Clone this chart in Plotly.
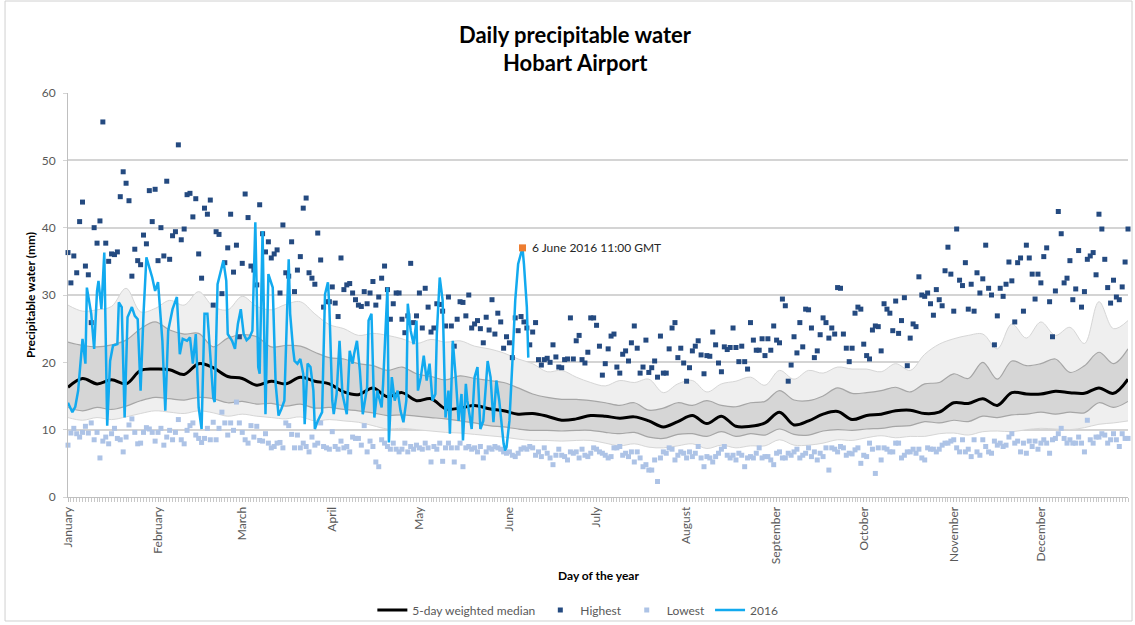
import plotly.graph_objects as go

# ---------------- data ----------------
month_names = ["January", "February", "March", "April", "May", "June", "July",
               "August", "September", "October", "November", "December"]
month_start_days = [1, 32, 61, 92, 122, 153, 183, 214, 245, 275, 306, 336]

days = list(range(1, 367))

highest = [
    36.3, 31.8, 35.8, 33.3, 40.9, 43.8, 34.3, 33.0, 25.9, 40.0,
    37.7, 41.0, 55.7, 37.7, 35.0, 36.1, 36.0, 36.4, 44.6, 48.3,
    46.6, 44.0, 32.8, 36.8, 35.1, 34.5, 38.9, 37.6, 45.5, 40.9,
    45.7, 35.1, 40.0, 35.8, 46.9, 35.3, 38.8, 39.4, 52.3, 38.2,
    39.8, 44.9, 45.1, 41.6, 44.3, 36.1, 32.5, 42.9, 42.0, 44.1,
    28.5, 39.4, 39.0, 30.2, 34.8, 37.0, 42.0, 33.4, 37.4, 23.8,
    34.7, 45.0, 41.5, 34.3, 33.7, 31.5, 43.4, 39.1, 36.4, 37.9,
    35.5, 36.1, 36.7, 30.3, 40.4, 33.3, 32.8, 37.9, 30.5, 33.7,
    35.7, 42.9, 44.4, 33.3, 32.5, 31.6, 39.2, 35.2, 28.2,
    29.0, 29.0, 31.2, 28.8, 26.8, 35.5, 30.8, 31.5, 31.7, 30.3,
    29.3, 28.5, 28.3, 30.5, 28.7, 30.3, 32.0, 28.5, 29.7, 32.5,
    34.3, 30.8, 26.4, 28.7, 30.3, 30.3, 26.4, 24.4, 26.9, 34.7,
    25.9, 26.9, 30.3, 25.1, 31.0, 28.2, 24.5, 25.1, 28.7, 28.6,
    27.6, 25.4, 29.7, 25.4, 22.4, 26.4, 29.0, 28.9, 26.9, 30.0,
    25.1, 25.7, 26.2, 25.0, 22.9, 26.7, 24.8, 29.3, 24.2, 27.3,
    26.0, 22.1, 23.8, 22.9, 20.7, 26.6, 24.7, 26.8, 26.0, 25.1,
    22.6, 24.5, 25.9, 20.4, 19.6, 20.4, 20.6, 20.0, 22.6, 20.8,
    19.3, 19.2, 20.4, 20.5, 26.6, 20.5, 23.2, 24.0, 20.4, 19.9,
    21.5, 26.6,
    26.6, 25.5, 22.4, 18.1, 19.8, 22.0, 23.9, 24.2, 19.3, 18.4,
    21.2, 21.7, 20.2, 22.9, 25.4, 22.1, 18.4, 19.3, 23.3, 18.5,
    19.2, 20.2, 17.8, 23.9, 18.4, 18.4, 22.0, 25.1, 25.9, 20.7,
    22.1, 19.9, 17.2, 19.2, 21.7, 22.4, 23.2, 21.1, 18.3, 21.0,
    20.9, 24.5, 22.6, 19.9, 18.6, 22.3, 21.9, 22.2, 25.1, 22.2,
    20.1, 22.4, 20.1, 19.0, 25.9, 23.3, 21.8, 21.8, 23.5, 21.0,
    23.5, 21.8, 25.4, 23.3, 22.9, 29.4, 28.4, 17.2, 19.6, 23.8,
    21.4, 25.9, 22.3, 27.9, 27.8, 25.1, 20.7, 21.7, 24.1, 26.6,
    25.9, 23.6, 25.1, 24.2, 31.1, 31.0, 24.2, 22.1, 20.1, 22.1,
    27.3, 28.2,
    27.9, 22.7, 21.0, 20.5, 24.8, 25.4, 25.3, 21.7, 28.7, 27.9,
    27.3, 24.7, 29.1, 24.3, 26.2, 29.6, 19.5, 23.6, 25.7, 25.3,
    32.7, 30.0, 29.8, 30.3, 28.7, 27.0, 30.8, 29.3, 28.4, 33.6,
    37.1, 33.1, 27.6, 39.8, 32.2, 31.4, 34.8, 27.9, 31.6, 27.6,
    33.3, 30.3, 32.4, 37.4, 31.0, 30.0, 22.6, 26.9, 31.0, 29.8,
    31.6, 34.9, 32.1, 26.0, 34.8, 35.5, 27.6, 37.4, 35.5, 33.1,
    29.4, 33.1, 31.8, 35.7, 37.0, 29.0, 23.8, 30.6, 42.4, 39.1,
    31.8, 32.5, 35.1, 29.3, 30.9, 36.6, 28.2, 30.5, 35.3, 35.8,
    36.3, 33.0, 42.0, 39.8, 35.3, 31.1, 28.8, 32.2, 29.7, 29.3,
    31.2, 34.9, 39.8,
]

lowest = [
    7.7, 9.5, 10.2, 9.4, 8.9, 9.6, 10.5, 9.5, 11.0, 8.5,
    9.6, 5.8, 8.3, 8.9, 7.9, 9.4, 10.2, 8.7, 8.5, 6.7,
    8.9, 10.7, 11.6, 9.6, 7.9, 8.0, 9.6, 10.3, 10.1, 9.6,
    8.3, 9.6, 10.2, 7.7, 8.9, 9.9, 8.5, 9.6, 11.5, 8.5,
    7.9, 9.9, 10.6, 11.0, 9.2, 8.7, 8.1, 8.7, 10.2, 8.5,
    11.1, 8.5, 10.2, 12.6, 11.0, 9.2, 11.0, 9.9, 14.1, 11.0,
    9.6, 8.5, 8.0, 10.6, 8.9, 10.5, 8.4, 8.3, 9.4, 8.0,
    7.3, 7.5, 8.0, 8.1, 7.3, 11.0, 10.6, 9.3, 7.3, 9.2,
    7.3, 8.0, 7.5, 6.7, 8.9, 7.7, 8.0, 11.0, 7.5,
    7.3, 7.1, 9.7, 7.5, 7.1, 8.3, 7.3, 7.5, 6.7, 8.9,
    8.7, 8.7, 7.7, 10.6, 6.7, 8.3, 7.5, 5.2, 4.5, 8.5,
    8.0, 7.5, 7.1, 8.0, 7.1, 6.7, 7.1, 8.0, 6.7, 7.5,
    7.1, 7.7, 7.3, 7.1, 8.0, 7.3, 5.2, 7.5, 7.1, 8.0,
    5.3, 7.3, 8.0, 7.3, 5.2, 7.3, 8.0, 4.5, 7.3, 7.5,
    7.1, 7.3, 6.7, 7.5, 5.8, 6.7, 7.3, 7.1, 7.5, 7.3,
    7.1, 6.7, 6.5, 6.7, 6.2, 6.0, 6.5, 7.1, 7.3, 7.1,
    7.5, 7.3, 6.2, 6.7, 6.0, 7.3, 6.5, 5.8, 4.8, 6.2,
    7.1, 6.2, 6.0, 5.5, 6.7, 6.5, 6.7, 5.8, 7.1, 6.2,
    6.0,
    6.5, 7.3, 7.1, 6.7, 6.5, 6.2, 5.8, 6.0, 7.3, 7.3,
    7.5, 6.2, 6.5, 6.0, 6.7, 5.2, 6.7, 5.8, 4.5, 4.8,
    4.0, 4.0, 5.5, 2.3, 5.8, 6.7, 6.5, 7.3, 7.1, 5.5,
    6.2, 6.7, 6.5, 5.8, 6.7, 6.0, 6.5, 7.5, 5.8, 4.5,
    6.0, 5.8, 5.2, 6.0, 6.5, 7.1, 7.5, 6.2, 5.8, 6.2,
    5.5, 6.5, 6.2, 4.5, 5.8, 6.0, 5.8, 6.5, 7.3, 5.8,
    6.0, 6.0, 5.5, 4.8, 6.5, 6.7, 5.8, 5.8, 6.5, 6.2,
    6.7, 7.1, 5.8, 6.2, 6.5, 7.3, 6.0, 6.7, 5.5, 6.5,
    6.0, 7.3, 4.0, 7.3, 7.1, 6.7, 7.5, 7.3, 6.2, 6.5,
    6.4, 7.0,
    7.3, 5.0, 6.2, 6.0, 8.0, 7.1, 3.5, 7.3, 5.5, 7.3,
    7.1, 6.7, 6.7, 8.0, 8.0, 5.8, 6.2, 6.7, 6.7, 7.1,
    6.5, 7.1, 5.8, 5.5, 7.3, 7.1, 7.1, 6.7, 7.1, 7.7,
    8.0, 8.0, 8.3, 8.5, 7.3, 6.7, 8.5, 6.7, 7.1, 6.0,
    8.5, 6.7, 6.2, 8.5, 7.5, 6.7, 6.5, 8.3, 7.7, 8.0,
    7.5, 7.7, 8.9, 9.4, 8.0, 8.3, 6.7, 8.0, 6.5, 8.3,
    7.5, 8.3, 7.1, 8.0, 8.5, 8.0, 6.5, 8.5, 8.7, 9.4,
    10.2, 8.7, 8.0, 8.5, 8.0, 8.0, 8.9, 8.0, 6.7, 11.4,
    8.5, 8.0, 8.9, 8.9, 9.4, 9.2, 8.0, 8.5, 9.4, 8.5,
    7.5, 9.4, 8.7, 8.7,
]

# band statistics sampled every 5 days (day 1, 6, ..., 366)
band_days = list(range(1, 367, 5))
median5 = [
    16.3, 17.6, 16.8, 17.4, 16.8, 18.8, 19.0, 18.9, 18.2, 19.8,
    19.2, 17.9, 17.6, 16.6, 17.2, 16.8, 17.8, 17.2, 16.8, 15.6,
    15.2, 16.2, 14.9, 15.5, 14.3, 14.6, 13.1, 13.2, 13.6, 13.1,
    12.8, 12.3, 12.4, 12.0, 11.4, 11.6, 12.1, 12.0, 11.7, 11.9,
    11.3, 10.4, 11.2, 12.1, 10.9, 12.0, 10.5, 10.5, 11.0, 12.6,
    10.7, 11.3, 12.3, 12.7, 11.5, 12.1, 12.3, 12.8, 12.9, 12.4,
    12.6, 14.0, 13.9, 14.6, 13.6, 15.5, 15.3, 15.3, 15.7, 15.5,
    15.4, 16.2, 15.4, 17.5,
]
p90 = [
    28.5, 27.6, 27.8, 28.3, 31.0, 27.5, 28.0, 29.2, 28.5, 30.5,
    28.3, 27.8, 29.8, 28.3, 27.8, 28.6, 29.0, 27.2, 25.6, 25.0,
    24.0, 24.3, 24.0, 23.5, 22.8, 23.4, 23.0, 23.2, 22.4, 22.0,
    21.4, 20.5, 19.8, 18.6, 18.8, 17.8, 17.0, 16.5, 17.3, 17.0,
    17.5, 15.5, 16.8, 17.3, 15.6, 16.8, 17.2, 17.8, 16.6, 18.8,
    17.5, 18.8, 18.4, 19.3, 19.0, 19.0, 18.6, 19.8, 18.8, 21.2,
    22.7, 23.5, 24.0, 24.2, 22.0, 25.7, 23.6, 26.0, 24.0, 25.2,
    22.8, 29.0, 25.0, 26.2,
]
p75 = [
    23.0, 22.5, 22.3, 22.6, 23.3, 25.0, 26.0, 24.8, 24.2, 24.3,
    22.3, 23.6, 24.1, 23.8, 22.3, 22.5, 22.4, 21.5, 20.7, 20.5,
    19.8, 19.5, 18.8, 19.3, 18.3, 17.9, 17.4, 18.0, 17.6, 17.3,
    17.0, 16.2, 15.3, 14.8, 14.5, 14.5, 14.3, 14.0, 13.6, 14.0,
    12.9, 13.2, 14.0, 13.6, 14.3, 13.6, 13.4, 14.0, 14.2, 15.8,
    14.4, 14.3, 15.0, 16.2, 15.4, 15.5, 15.8, 16.3, 15.6, 16.8,
    17.0, 18.3, 17.6, 20.0, 17.5, 20.2, 19.5, 19.8, 20.5, 18.5,
    19.5, 21.5, 19.8, 22.0,
]
p25 = [
    13.3, 12.8, 13.3, 13.0, 13.5, 14.3, 14.8, 14.6, 14.4, 14.8,
    14.6, 14.0, 14.2, 13.8, 13.9, 13.5, 13.8, 13.2, 13.3, 13.0,
    12.8, 12.5, 12.1, 12.2, 12.0, 11.8, 11.6, 11.3, 11.0, 10.6,
    10.4, 10.1, 9.9, 9.9, 9.8, 9.9, 9.9, 9.6, 9.4, 9.6,
    8.9, 8.7, 9.3, 9.4, 9.0, 9.7, 9.0, 9.4, 9.2, 10.1,
    9.3, 9.2, 9.8, 10.0, 9.9, 10.1, 10.2, 10.5, 10.6, 11.2,
    11.0, 11.4, 11.2, 12.0, 11.8, 12.2, 12.3, 12.6, 12.3, 12.6,
    12.5, 14.0, 13.3, 14.2,
]
p10 = [
    11.8, 11.4, 11.8, 11.5, 11.9, 12.4, 12.8, 12.6, 12.4, 12.8,
    12.5, 12.0, 12.3, 12.0, 11.8, 11.6, 11.9, 11.3, 11.5, 11.3,
    11.1, 10.6, 10.1, 10.2, 10.0, 9.8, 9.6, 9.5, 9.3, 9.1,
    8.9, 8.6, 8.4, 8.4, 8.3, 8.4, 8.4, 8.0, 7.6, 7.9,
    7.4, 7.3, 7.6, 7.9, 7.2, 7.7, 7.3, 7.6, 7.6, 8.5,
    7.7, 7.7, 8.0, 8.5, 8.4, 8.8, 9.1, 8.8, 9.0, 9.0,
    9.4, 9.5, 9.2, 9.7, 9.8, 9.7, 10.0, 10.2, 10.1, 10.0,
    10.3, 10.8, 11.0, 11.3,
]

# 2016 observations (day of year, value)
obs2016_day = [
    1.0, 2.5, 3.5, 4.5, 6.0, 7.0, 7.5, 9.0, 10.0, 11.0, 11.5, 12.5, 13.5, 14.5,
    15.5, 16.5, 18.0, 18.5, 19.5, 20.5, 21.5, 23.0, 24.0, 25.0, 26.0, 27.0,
    28.0, 30.0, 31.0, 32.0, 33.5, 34.5, 35.5, 37.0, 38.5, 39.5, 40.5, 42.0,
    43.0, 44.0, 45.0, 46.0, 47.0, 48.0, 49.0, 51.0, 51.5, 52.5, 54.5, 55.5,
    56.0, 57.5, 58.5, 59.5, 60.5, 61.5, 62.5, 63.5, 64.5, 65.5, 66.5, 67.0,
    68.0, 69.0, 70.0, 71.5, 72.5, 73.5, 74.5, 75.5, 77.0, 77.5, 78.5, 79.0,
    80.0, 81.0, 82.0, 82.5, 83.5, 84.5, 85.5, 86.0, 87.0, 88.5, 89.5, 90.5,
    91.0, 92.0, 92.5, 93.5, 94.5, 95.0, 95.5, 97.0, 98.0, 99.0, 99.5, 100.5,
    101.5, 102.5, 104.0, 104.5, 105.5, 106.5, 107.5, 109.0, 109.5, 111.0,
    111.5, 112.5, 113.5, 114.5, 115.5, 116.5, 117.5, 118.0, 119.0, 120.0,
    121.0, 121.5, 122.5, 123.5, 124.5, 125.5, 126.5, 127.5, 128.0, 129.0,
    130.0, 131.0, 132.0, 132.5, 133.5, 134.5, 135.5, 136.5, 137.0, 138.0,
    138.5, 140.0, 141.0, 142.0, 143.0, 144.0, 145.5, 146.5, 147.5, 148.5,
    149.5, 151.0, 151.5, 152.0, 153.0, 154.0, 155.0, 156.0, 157.5, 158.0,
    159.0, 159.5,
]
obs2016_val = [
    14.0, 12.6, 13.4, 15.8, 23.5, 19.8, 31.1, 27.2, 22.0, 30.6, 32.1, 27.9, 36.3, 10.6,
    20.2, 22.5, 22.7, 28.9, 28.2, 11.8, 26.7, 28.2, 26.9, 26.4, 15.8, 27.2,
    35.6, 32.6, 30.6, 31.9, 23.2, 12.8, 24.7, 27.9, 29.7, 21.2, 23.5, 23.2,
    23.7, 19.8, 24.2, 13.3, 10.1, 27.2, 27.2, 14.8, 14.1, 31.6, 35.1, 32.1,
    24.2, 23.2, 22.0, 25.7, 27.9, 24.2, 23.3, 23.7, 24.7, 40.8, 19.3, 18.3,
    39.5, 12.3, 33.1, 31.1, 16.8, 12.1, 13.1, 14.3, 35.3, 27.2, 22.0, 20.2,
    19.8, 20.5, 18.3, 10.8, 19.8, 19.3, 15.8, 10.1, 11.3, 12.6, 30.1, 31.9,
    28.2, 14.3, 12.3, 15.3, 23.2, 19.3, 15.3, 12.3, 21.7, 19.8, 21.2, 23.2,
    18.8, 12.3, 16.3, 26.2, 27.2, 11.8, 15.8, 13.3, 16.8, 31.1,
    8.1, 17.8, 14.3, 15.8, 12.8, 11.1, 14.3, 28.7, 24.7, 22.7,
    26.2, 15.8, 17.8, 21.0, 17.3, 19.8, 14.3, 15.3, 24.2, 32.6,
    29.2, 11.8, 15.8, 9.4, 23.2, 17.8, 11.3, 15.3, 8.4, 16.8,
    14.3, 10.1, 17.8, 19.3, 10.1, 11.3, 20.2, 17.8, 11.1, 17.3,
    14.3, 7.9, 6.9, 7.4, 11.3, 19.8, 29.2, 34.6, 37.0, 34.6,
    28.2, 20.7,
]
peak_day = 157.5
peak_val = 37.0
peak_label = "6 June 2016 11:00 GMT"

# ---------------- figure ----------------
FONT = "Lato"
TXT = "#595959"

fig = go.Figure()

# outer band (10th-90th)
fig.add_trace(go.Scatter(x=band_days, y=p90, mode="lines",
                         line=dict(color="#d6d6d6", width=1, shape="spline"),
                         showlegend=False, hoverinfo="skip"))
fig.add_trace(go.Scatter(x=band_days, y=p10, mode="lines", fill="tonexty",
                         fillcolor="#efefef",
                         line=dict(color="#d6d6d6", width=1, shape="spline"),
                         showlegend=False, hoverinfo="skip"))
# inner band (25th-75th)
fig.add_trace(go.Scatter(x=band_days, y=p75, mode="lines",
                         line=dict(color="#a6a6a6", width=1.2, shape="spline"),
                         showlegend=False, hoverinfo="skip"))
fig.add_trace(go.Scatter(x=band_days, y=p25, mode="lines", fill="tonexty",
                         fillcolor="#d6d6d6",
                         line=dict(color="#a6a6a6", width=1.2, shape="spline"),
                         showlegend=False, hoverinfo="skip"))

fig.add_trace(go.Scatter(x=band_days, y=median5, mode="lines",
                         name="5-day weighted median",
                         line=dict(color="black", width=3, shape="spline")))
fig.add_trace(go.Scatter(x=days, y=highest, mode="markers", name="Highest",
                         marker=dict(symbol="square", size=5, color="#244a80"),
                         cliponaxis=False))
fig.add_trace(go.Scatter(x=days, y=lowest, mode="markers", name="Lowest",
                         marker=dict(symbol="square", size=5, color="#adc3e6"),
                         cliponaxis=False))
fig.add_trace(go.Scatter(x=obs2016_day, y=obs2016_val, mode="lines", name="2016",
                         line=dict(color="#12aaef", width=2.5)))
fig.add_trace(go.Scatter(x=[peak_day], y=[peak_val], mode="markers",
                         marker=dict(symbol="square", size=7, color="#ed7d31"),
                         showlegend=False, hoverinfo="skip"))

fig.update_layout(
    width=1135, height=625,
    margin=dict(l=68, r=7, t=93, b=128, autoexpand=False),
    paper_bgcolor="white", plot_bgcolor="white",
    font=dict(family=FONT, size=12, color=TXT),
    showlegend=True,
    legend=dict(orientation="h", x=0.481, xanchor="center", y=-0.28,
                yanchor="middle", font=dict(family=FONT, size=12, color=TXT),
                itemwidth=30, traceorder="normal",
                bgcolor="rgba(0,0,0,0)"),
)

fig.update_xaxes(
    range=[1, 366], tickmode="array", tickvals=month_start_days,
    ticktext=month_names, tickangle=-90, automargin=False,
    tickfont=dict(family=FONT, size=12, color=TXT),
    showgrid=False, zeroline=False,
    showline=True, linecolor="#bfbfbf", linewidth=1,
    ticks="outside", ticklen=4, tickcolor="#bfbfbf",
    minor=dict(tickmode="linear", tick0=1, dtick=1, ticks="outside",
               ticklen=4, tickcolor="#c8c8c8", showgrid=False),
)
fig.update_yaxes(
    range=[0, 60], tickmode="linear", tick0=0, dtick=10, automargin=False,
    tickfont=dict(family=FONT, size=12, color=TXT),
    showgrid=True, gridcolor="#d4d4d4", gridwidth=1.5, zeroline=False,
    showline=True, linecolor="#bfbfbf", linewidth=1,
    ticks="outside", ticklen=4, tickcolor="#d4d4d4", ticklabelstandoff=5,
)

annotations = [
    dict(text="<b>Daily precipitable water</b>", x=0.4792, y=1.1436,
         xref="paper", yref="paper", showarrow=False, xanchor="center",
         yanchor="middle", font=dict(family=FONT, size=22, color="black")),
    dict(text="<b>Hobart Airport</b>", x=0.4792, y=1.0767,
         xref="paper", yref="paper", showarrow=False, xanchor="center",
         yanchor="middle", font=dict(family=FONT, size=22, color="black")),
    dict(text="<b>Day of the year</b>", x=0.5, y=-0.1955,
         xref="paper", yref="paper", showarrow=False, xanchor="center",
         yanchor="middle", font=dict(family=FONT, size=12, color="black")),
    dict(text="<b>Precipitable water (mm)</b>", x=-0.0358, y=0.5,
         xref="paper", yref="paper", showarrow=False, xanchor="center",
         yanchor="middle", textangle=-90,
         font=dict(family=FONT, size=12, color="black")),
    dict(text=peak_label, x=peak_day, y=peak_val, xref="x", yref="y",
         showarrow=False, xanchor="left", yanchor="middle", xshift=8,
         font=dict(family=FONT, size=12, color="#262626")),
]
fig.update_layout(annotations=annotations)

fig.add_shape(type="rect", xref="paper", yref="paper",
              x0=-0.0594, x1=1.0038, y0=-0.3069, y1=1.2277,
              line=dict(color="#d0d0d0", width=1), fillcolor="rgba(0,0,0,0)",
              layer="below")

fig.write_html("out.html",
               config={"displayModeBar": False},
               post_script="document.body.style.margin='0';"
                           "document.body.style.padding='0';")
